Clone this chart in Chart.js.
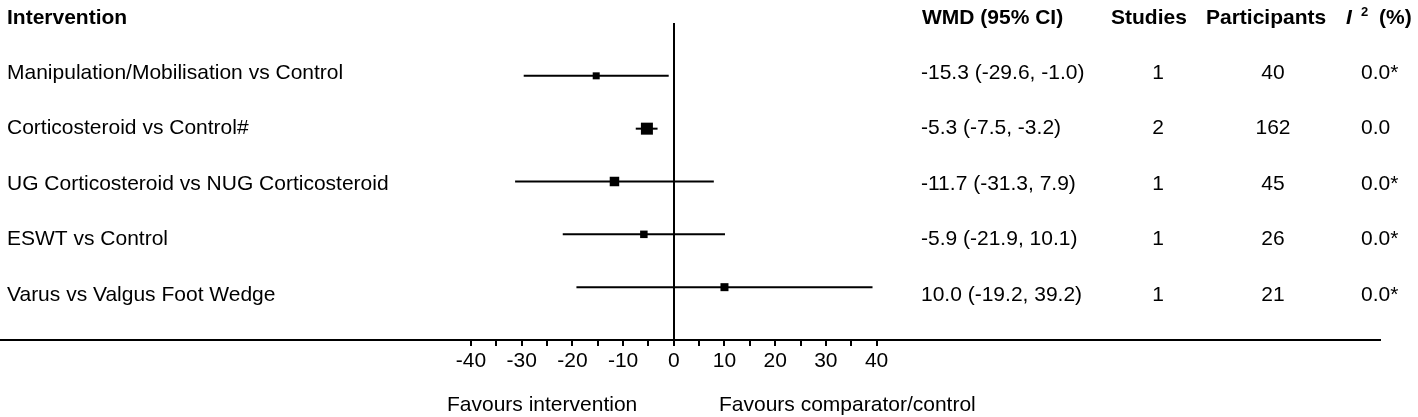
<!DOCTYPE html>
<html>
<head>
<meta charset="utf-8">
<script src="https://cdn.jsdelivr.net/npm/chart.js@4/dist/chart.umd.min.js"></script>
<style>
  html, body { margin: 0; padding: 0; background: #fff; }
  #wrap { width: 1418px; height: 417px; }
</style>
</head>
<body>
<div id="wrap"><canvas id="c" width="1418" height="417"></canvas></div>
<script>
// data
const interventions = [
  'Manipulation/Mobilisation vs Control',
  'Corticosteroid vs Control#',
  'UG Corticosteroid vs NUG Corticosteroid',
  'ESWT vs Control',
  'Varus vs Valgus Foot Wedge'
];
const wmd = [-15.3, -5.3, -11.7, -5.9, 10.0];
const ciLow = [-29.6, -7.5, -31.3, -21.9, -19.2];
const ciHigh = [-1.0, -3.2, 7.9, 10.1, 39.2];
const studies = [1, 2, 1, 1, 1];
const participants = [40, 162, 45, 26, 21];
const iSquared = ['0.0*', '0.0', '0.0*', '0.0*', '0.0*'];
const tickLabels = [-40, -30, -20, -10, 0, 10, 20, 30, 40];
const minorTicks = [-35, -25, -15, -5, 5, 15, 25, 35];

// marker side length in px (study weight)
const markerSide = [7, 12, 9.5, 7.5, 8];

const FONT = '"Liberation Sans", Arial, sans-serif';

var markers = {
    type: 'scatter',
    order: 0,
    data: wmd.map((v, i) => ({x: v, y: i + 1})),
    pointStyle: 'rect',
    pointRadius: markerSide.map(s => s / Math.SQRT2),
    pointBackgroundColor: '#000',
    pointBorderWidth: 0,
    showLine: false
};

var ciLines = interventions.map((name, i) => ({
    type: 'scatter',
    order: 1,
    label: name,
    data: [{x: ciLow[i], y: i + 1}, {x: ciHigh[i], y: i + 1}],
    showLine: true,
    borderColor: '#000',
    borderWidth: 2,
    pointRadius: 0
}));

// table and labels around the plot
var tablePlugin = {
    id: 'table',
    afterDraw(chart) {
        const ctx = chart.ctx;
        ctx.save();
        ctx.fillStyle = '#000';
        ctx.textBaseline = 'alphabetic';

        // headers
        const hy = 23.5;
        ctx.font = 'bold 21px ' + FONT;
        ctx.textAlign = 'left';
        ctx.fillText('Intervention', 7, hy);
        ctx.fillText('WMD (95% CI)', 922, hy);
        ctx.fillText('Studies', 1111, hy);
        ctx.fillText('Participants', 1206, hy);
        ctx.font = 'italic bold 21px ' + FONT;
        ctx.fillText('I', 1346, hy);
        ctx.font = 'bold 13px ' + FONT;
        ctx.fillText('2', 1361, hy - 8);
        ctx.font = 'bold 21px ' + FONT;
        ctx.fillText('(%)', 1379, hy);

        // rows
        ctx.font = '21px ' + FONT;
        interventions.forEach((name, i) => {
            const y = 78.5 + 55.5 * i;
            ctx.textAlign = 'left';
            ctx.fillText(name, 7, y);
            ctx.fillText(wmd[i].toFixed(1) + ' (' + ciLow[i].toFixed(1) + ', ' + ciHigh[i].toFixed(1) + ')', 921, y);
            ctx.fillText(iSquared[i], 1361, y);
            ctx.textAlign = 'center';
            ctx.fillText(String(studies[i]), 1158, y);
            ctx.fillText(String(participants[i]), 1273, y);
        });

        // favours labels
        ctx.textAlign = 'left';
        ctx.fillText('Favours intervention', 447, 411);
        ctx.fillText('Favours comparator/control', 719, 411);
        ctx.restore();
    }
};

new Chart(document.getElementById('c').getContext('2d'), {
    data: {
        datasets: [markers].concat(ciLines)
    },
    options: {
        responsive: false,
        animation: false,
        layout: {
            autoPadding: false,
            padding: {top: 23, left: 0, right: 38, bottom: 0}
        },
        plugins: {
            legend: {display: false},
            tooltip: {enabled: false}
        },
        scales: {
            x: {
                type: 'linear',
                position: 'bottom',
                min: -132.9,
                max: 139.3,
                afterBuildTicks(scale) {
                    scale.ticks = tickLabels.concat(minorTicks)
                        .sort((a, b) => a - b)
                        .map(v => ({value: v}));
                },
                afterFit(scale) {
                    scale.height = 77;
                },
                border: {display: true, color: '#000', width: 2},
                grid: {
                    drawOnChartArea: true,
                    color: c => (c.tick && c.tick.value === 0) ? '#000' : 'rgba(0,0,0,0)',
                    lineWidth: 2,
                    tickColor: '#000',
                    tickWidth: 2,
                    tickLength: 6
                },
                ticks: {
                    autoSkip: false,
                    maxRotation: 0,
                    padding: 3,
                    color: '#000',
                    font: {family: FONT, size: 21},
                    callback: v => tickLabels.includes(v) ? String(v) : ''
                }
            },
            y: {
                type: 'linear',
                display: false,
                reverse: true,
                min: 0,
                max: 6
            }
        }
    },
    plugins: [tablePlugin]
});
</script>
</body>
</html>
